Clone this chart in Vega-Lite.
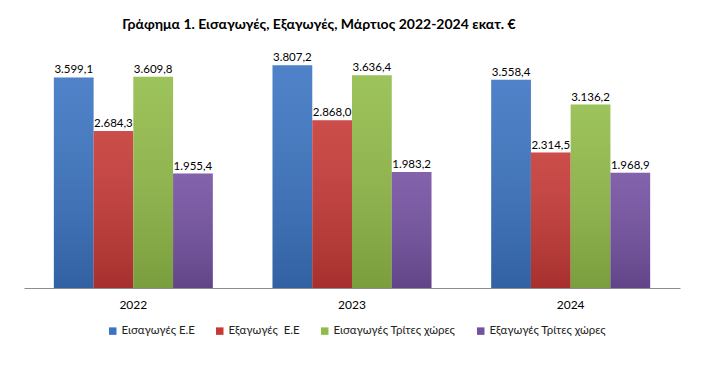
{
  "$schema": "https://vega.github.io/schema/vega-lite/v6.json",
  "width": 656,
  "height": 234,
  "autosize": "none",
  "padding": {"left": 24, "top": 54, "right": 25, "bottom": 85},
  "background": "white",
  "config": {
    "view": {"stroke": null},
    "locale": {"number": {"decimal": ",", "thousands": ".", "grouping": [3], "currency": ["", "€"]}},
    "font": "Lato"
  },
  "title": {
    "text": "Γράφημα 1. Εισαγωγές, Εξαγωγές, Μάρτιος 2022-2024 εκατ. €",
    "font": "Lato",
    "fontSize": 14,
    "fontWeight": "bold",
    "color": "#000000",
    "anchor": "middle",
    "dx": -33,
    "offset": 20
  },
  "data": {
    "values": [
      {"year": "2022", "series": "Εισαγωγές Ε.Ε", "value": 3599.1},
      {"year": "2022", "series": "Εξαγωγές\u00a0 Ε.Ε", "value": 2684.3},
      {"year": "2022", "series": "Εισαγωγές Τρίτες χώρες", "value": 3609.8},
      {"year": "2022", "series": "Εξαγωγές Τρίτες χώρες", "value": 1955.4},
      {"year": "2023", "series": "Εισαγωγές Ε.Ε", "value": 3807.2},
      {"year": "2023", "series": "Εξαγωγές\u00a0 Ε.Ε", "value": 2868.0},
      {"year": "2023", "series": "Εισαγωγές Τρίτες χώρες", "value": 3636.4},
      {"year": "2023", "series": "Εξαγωγές Τρίτες χώρες", "value": 1983.2},
      {"year": "2024", "series": "Εισαγωγές Ε.Ε", "value": 3558.4},
      {"year": "2024", "series": "Εξαγωγές\u00a0 Ε.Ε", "value": 2314.5},
      {"year": "2024", "series": "Εισαγωγές Τρίτες χώρες", "value": 3136.2},
      {"year": "2024", "series": "Εξαγωγές Τρίτες χώρες", "value": 1968.9}
    ]
  },
  "encoding": {
    "x": {
      "field": "year",
      "type": "nominal",
      "scale": {"paddingInner": 0.273, "paddingOuter": 0.1365},
      "axis": {
        "title": null,
        "labelAngle": 0,
        "ticks": false,
        "labelPadding": 11,
        "labelFontSize": 12,
        "labelColor": "#000000",
        "labelFont": "Lato",
        "domainColor": "#8c8c8c",
        "domainWidth": 1
      }
    },
    "xOffset": {
      "field": "series",
      "type": "nominal",
      "scale": {
        "domain": ["Εισαγωγές Ε.Ε", "Εξαγωγές\u00a0 Ε.Ε", "Εισαγωγές Τρίτες χώρες", "Εξαγωγές Τρίτες χώρες"],
        "paddingInner": 0,
        "paddingOuter": 0
      }
    },
    "y": {
      "field": "value",
      "type": "quantitative",
      "scale": {"domain": [0, 4000], "nice": false},
      "axis": null
    }
  },
  "layer": [
    {
      "mark": {"type": "bar"},
      "encoding": {
        "color": {
          "field": "series",
          "type": "nominal",
          "scale": {
            "domain": ["Εισαγωγές Ε.Ε", "Εξαγωγές\u00a0 Ε.Ε", "Εισαγωγές Τρίτες χώρες", "Εξαγωγές Τρίτες χώρες"],
            "range": ["#3B74C2", "#C63936", "#92BC49", "#7451A2"]
          },
          "legend": {
            "title": null,
            "orient": "none",
            "direction": "horizontal",
            "legendX": 83,
            "legendY": 271,
            "symbolType": "square",
            "symbolSize": 56,
            "symbolStrokeWidth": 0,
            "labelFontSize": 11.5,
            "labelFont": "Lato",
            "labelColor": "#222222",
            "columnPadding": 19,
            "labelOffset": 3
          }
        }
      }
    },
    {
      "mark": {
        "type": "bar",
        "fill": {
          "gradient": "linear",
          "x1": 0, "y1": 0, "x2": 0, "y2": 1,
          "stops": [
            {"offset": 0, "color": "rgba(255,255,255,0.10)"},
            {"offset": 1, "color": "rgba(0,0,0,0.16)"}
          ]
        }
      },
      "encoding": {}
    },
    {
      "mark": {"type": "text", "baseline": "bottom", "dy": -2, "fontSize": 11.5, "font": "Lato", "color": "#000000"},
      "encoding": {
        "text": {"field": "value", "type": "quantitative", "format": ",.1f"}
      }
    }
  ]
}
